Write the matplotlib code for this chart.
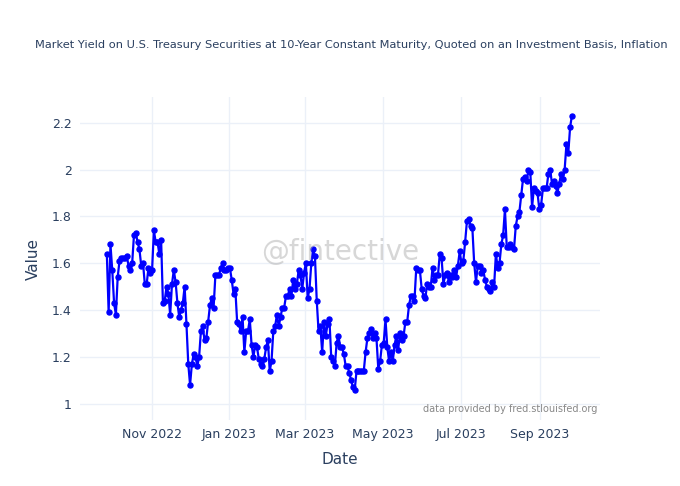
import numpy as np
import pandas as pd
import matplotlib
matplotlib.use("Agg")
import matplotlib.pyplot as plt
import matplotlib.dates as mdates

# daily values, late Sep 2022 -> late Sep 2023
values = [
    1.64, 1.39, 1.68, 1.57, 1.43, 1.38, 1.54, 1.61, 1.62, 1.62, 1.62, 1.63, 1.59, 1.57, 1.60, 1.72,
    1.73, 1.69, 1.66, 1.59, 1.60, 1.51, 1.51, 1.58, 1.56, 1.57, 1.74, 1.69, 1.69, 1.64, 1.70,
    1.43, 1.44, 1.50, 1.47, 1.38, 1.51, 1.57, 1.52, 1.43, 1.37, 1.40, 1.43, 1.50, 1.34, 1.17, 1.08,
    1.17, 1.21, 1.20, 1.16, 1.20,
    1.31, 1.33, 1.27, 1.28, 1.35, 1.42, 1.45, 1.41, 1.55, 1.55, 1.55, 1.58, 1.60, 1.57, 1.57, 1.58,
    1.58, 1.53, 1.47, 1.49, 1.35,
    1.34, 1.31, 1.37, 1.22, 1.31, 1.31, 1.36, 1.25, 1.20, 1.25, 1.24, 1.19, 1.17, 1.16, 1.19, 1.24,
    1.27, 1.14, 1.18, 1.31,
    1.33, 1.38, 1.33, 1.37, 1.41, 1.41, 1.46, 1.46, 1.49, 1.46, 1.53, 1.49, 1.51, 1.57, 1.55, 1.49,
    1.56, 1.60, 1.45, 1.49,
    1.60, 1.66, 1.63, 1.44, 1.31, 1.33, 1.22, 1.35, 1.29, 1.34, 1.36, 1.20, 1.18, 1.16, 1.26, 1.29,
    1.24, 1.24, 1.21, 1.16, 1.16, 1.13,
    1.10, 1.07, 1.06, 1.14, 1.14, 1.14, 1.14, 1.14, 1.22, 1.28, 1.30, 1.32, 1.28, 1.30, 1.28, 1.15,
    1.18, 1.25, 1.26, 1.36,
    1.24, 1.18, 1.22, 1.18, 1.25, 1.29, 1.23, 1.30, 1.27, 1.29, 1.35, 1.35, 1.42, 1.46, 1.46, 1.44,
    1.58, 1.57, 1.57, 1.49, 1.46, 1.45,
    1.51, 1.50, 1.50, 1.58, 1.53, 1.55, 1.55, 1.64, 1.62, 1.51, 1.55, 1.56, 1.52, 1.55, 1.54, 1.57,
    1.54, 1.59, 1.65, 1.60,
    1.61, 1.69, 1.78, 1.79, 1.76, 1.75, 1.60, 1.52, 1.59, 1.59, 1.56, 1.57, 1.53, 1.50, 1.49, 1.48,
    1.52, 1.50, 1.64, 1.58, 1.60,
    1.68, 1.72, 1.83, 1.67, 1.67, 1.68, 1.67, 1.66, 1.76, 1.80, 1.82, 1.89, 1.96, 1.97, 1.95, 2.00,
    1.99, 1.84, 1.92, 1.91, 1.90, 1.83, 1.85,
    1.92, 1.92, 1.92, 1.98, 2.00, 1.94, 1.95, 1.93, 1.90, 1.94, 1.98, 1.96, 2.00, 2.11, 2.07, 2.18,
    2.23,
]
start_date = "2022-09-27"
end_date = "2023-09-26"
dates = pd.date_range(start_date, end_date, periods=len(values))

title = "Market Yield on U.S. Treasury Securities at 10-Year Constant Maturity, Quoted on an Investment Basis, Inflation"
txt_col = "#2a3f5f"
grid_col = "#ebf0f8"

fig = plt.figure(figsize=(6.8, 4.86), dpi=100)
ax = fig.add_axes([80 / 680, 1 - 420 / 486, 520 / 680, 323 / 486])

ax.plot(dates, values, color="#0000ff", lw=1.6, marker="o", ms=3.6, zorder=3)

ax.set_xlim(pd.Timestamp("2022-09-06"), pd.Timestamp("2023-10-18"))
ax.set_ylim(0.93, 2.31)
ax.set_yticks([1, 1.2, 1.4, 1.6, 1.8, 2, 2.2])
ax.set_yticklabels(["1", "1.2", "1.4", "1.6", "1.8", "2", "2.2"])
ax.xaxis.set_major_locator(mdates.MonthLocator(bymonth=[1, 3, 5, 7, 9, 11]))
ax.xaxis.set_major_formatter(mdates.DateFormatter("%b %Y"))

for s in ax.spines.values():
    s.set_visible(False)
ax.grid(True, color=grid_col, lw=1)
ax.set_axisbelow(True)
ax.tick_params(length=0, labelsize=9, colors=txt_col, pad=6)
ax.set_xlabel("Date", fontsize=11, color=txt_col, labelpad=8)
ax.set_ylabel("Value", fontsize=11, color=txt_col, labelpad=8)

fig.text(35 / 680, 1 - 45 / 486, title, fontsize=8.2, color=txt_col, ha="left", va="center")
ax.text(0.5, 0.52, "@fintective", transform=ax.transAxes, fontsize=20, color="#b0b0b0",
        alpha=0.5, ha="center", va="center")
ax.text(0.995, 0.02, "data provided by fred.stlouisfed.org", transform=ax.transAxes,
        fontsize=7, color="#888888", ha="right", va="bottom")

fig.savefig("out.png", dpi=100)
